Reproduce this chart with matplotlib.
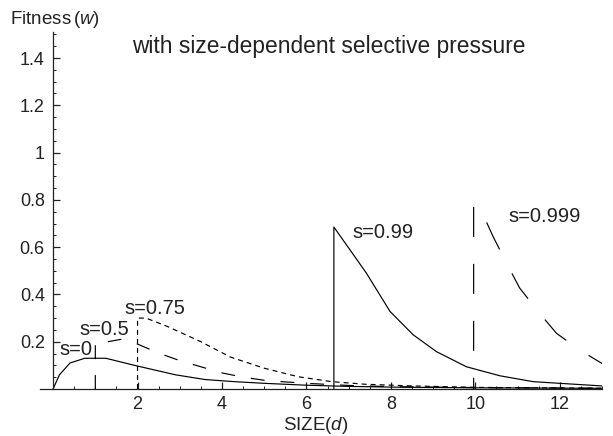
import numpy as np
import matplotlib
matplotlib.use("Agg")
import matplotlib.pyplot as plt
from matplotlib.ticker import MultipleLocator, FixedLocator

plt.rcParams['font.family'] = ['Liberation Sans', 'DejaVu Sans']
plt.rcParams['mathtext.fontset'] = 'custom'
plt.rcParams['mathtext.rm'] = 'Liberation Sans'
plt.rcParams['mathtext.it'] = 'Liberation Sans:italic'
plt.rcParams['lines.scale_dashes'] = False

TXT = '#222222'

# --- curves (size d, fitness w) ---
x_s0 = [0, 0.15, 0.4, 0.75, 1.25, 2.0, 2.9, 3.6, 4.3, 5.0, 6.0, 7.0, 8.0, 10.0, 13.0]
y_s0 = [0, 0.06, 0.11, 0.13, 0.13, 0.097, 0.06, 0.04, 0.031, 0.024, 0.016, 0.011, 0.008, 0.005, 0.003]

x_s05 = [1.0, 1.0, 1.3, 1.6, 2.0, 2.5, 3.0, 3.5, 4.0, 4.5, 5.0, 5.5, 6.0, 7.0, 8.0, 10.0, 13.0]
y_s05 = [0, 0.2, 0.2, 0.21, 0.19, 0.152, 0.12, 0.094, 0.068, 0.05, 0.037, 0.03, 0.024, 0.015, 0.01, 0.006, 0.003]

x_s075 = [2.0, 2.0, 2.2, 2.7, 3.5, 4.2, 5.0, 5.8, 6.6, 7.4, 8.5, 10.0, 13.0]
y_s075 = [0, 0.30, 0.30, 0.265, 0.2, 0.135, 0.088, 0.052, 0.031, 0.02, 0.013, 0.007, 0.003]

x_s099 = [6.65, 6.65, 7.03, 7.42, 7.98, 8.53, 9.08, 9.79, 10.58, 11.37, 12.0, 13.0]
y_s099 = [0, 0.685, 0.589, 0.49, 0.328, 0.229, 0.158, 0.094, 0.056, 0.031, 0.024, 0.013]

x_s0999 = [9.96, 9.96, 10.15, 10.42, 10.74, 11.05, 11.49, 11.92, 12.47, 13.0]
y_s0999 = [0, 0.785, 0.751, 0.645, 0.532, 0.427, 0.327, 0.236, 0.165, 0.108]

labels = ["s=0", "s=0.5", "s=0.75", "s=0.99", "s=0.999"]
label_pos = [(0.14, 0.165), (0.62, 0.25), (1.68, 0.339), (7.08, 0.66), (10.79, 0.73)]

fig = plt.figure(figsize=(6.13, 4.36), dpi=100)
ax = fig.add_axes([40 / 613, 1 - 389 / 436, (602 - 40) / 613, (389 - 32) / 436])

lw = 0.85
ax.plot(x_s0, y_s0, color='black', lw=lw)
ax.plot(x_s05, y_s05, color='black', lw=lw, linestyle=(0, (10, 11.5)))
ax.plot(x_s075, y_s075, color='black', lw=lw, linestyle=(0, (3.6, 2.9)))
ax.plot(x_s099, y_s099, color='black', lw=lw)
ax.plot(x_s0999, y_s0999, color='black', lw=lw, linestyle=(13.5, (21.6, 19.4)))

for txt, (lx, ly) in zip(labels, label_pos):
    ax.text(lx, ly, txt, ha='left', va='center', fontsize=14.5, color=TXT)

ax.text(1.87, 1.449, "with size-dependent selective pressure", ha='left', va='center',
        fontsize=16.4, color=TXT)

ax.set_xlim(-0.31, 13.0)
ax.set_ylim(0, 1.51)
ax.spines['left'].set_position(('data', 0))
ax.spines['bottom'].set_position(('data', 0))
ax.spines['top'].set_visible(False)
ax.spines['right'].set_visible(False)
for sp in ('left', 'bottom'):
    ax.spines[sp].set_color('#222222')
    ax.spines[sp].set_linewidth(0.9)

ax.xaxis.set_major_locator(FixedLocator([2, 4, 6, 8, 10, 12]))
ax.xaxis.set_minor_locator(MultipleLocator(0.5))
ax.yaxis.set_major_locator(FixedLocator([0.2, 0.4, 0.6, 0.8, 1.0, 1.2, 1.4]))
ax.yaxis.set_minor_locator(MultipleLocator(0.05))
ax.set_yticklabels(["0.2", "0.4", "0.6", "0.8", "1", "1.2", "1.4"])

ax.tick_params(which='major', direction='in', length=5, width=0.9, colors='#222222',
               labelsize=13, labelcolor=TXT)
ax.tick_params(which='minor', direction='in', length=2.5, width=0.7, colors='#222222')
ax.tick_params(axis='y', which='major', pad=6)
ax.tick_params(axis='x', which='major', pad=5)

fig.text(10 / 613, 1 - 19 / 436, r"Fitness$\,$($w$)", ha='left', va='center',
         fontsize=13.5, color=TXT)
fig.text(316 / 613, 1 - 425 / 436, r"SIZE($d$)", ha='center', va='center',
         fontsize=13.5, color=TXT)

fig.savefig("out.png", dpi=100)
